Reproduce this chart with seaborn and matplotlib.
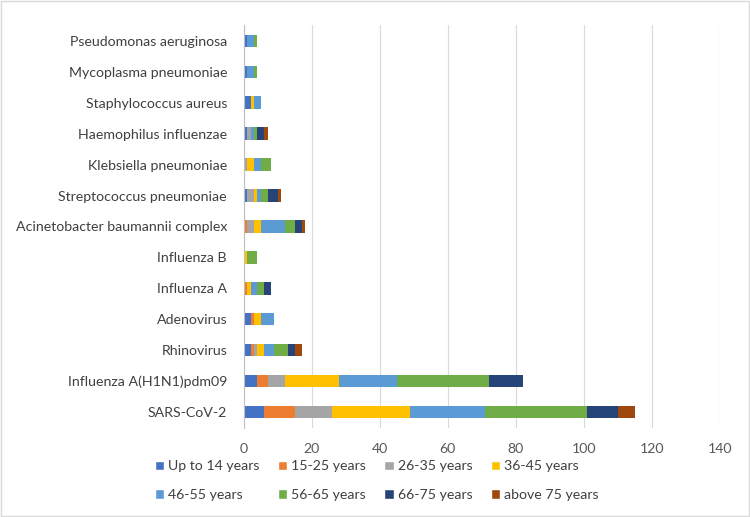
import numpy as np
import pandas as pd
import seaborn as sns
import matplotlib.pyplot as plt
from matplotlib.patches import Patch, Rectangle

# categories, top to bottom as drawn
pathogens = [
    "Pseudomonas aeruginosa", "Mycoplasma pneumoniae", "Staphylococcus aureus",
    "Haemophilus influenzae", "Klebsiella pneumoniae", "Streptococcus pneumoniae",
    "Acinetobacter baumannii complex", "Influenza B", "Influenza A", "Adenovirus",
    "Rhinovirus", "Influenza A(H1N1)pdm09", "SARS-CoV-2",
]
age_groups = ["Up to 14 years", "15-25 years", "26-35 years", "36-45 years",
              "46-55 years", "56-65 years", "66-75 years", "above 75 years"]

# counts per age group, one value per pathogen (same order as pathogens)
up_to_14 = [1, 1, 2, 1, 0, 1, 0, 0, 0, 2, 2, 4, 6]
age_15_25 = [0, 0, 0, 0, 0, 0, 1, 0, 1, 1, 1, 3, 9]
age_26_35 = [0, 0, 0, 1, 1, 2, 2, 0, 0, 0, 1, 5, 11]
age_36_45 = [0, 0, 1, 0, 2, 1, 2, 1, 1, 2, 2, 16, 23]
age_46_55 = [2, 2, 2, 1, 2, 1, 7, 0, 2, 4, 3, 17, 22]
age_56_65 = [1, 1, 0, 1, 3, 2, 3, 3, 2, 0, 4, 27, 30]
age_66_75 = [0, 0, 0, 2, 0, 3, 2, 0, 2, 0, 2, 10, 9]
above_75 = [0, 0, 0, 1, 0, 1, 1, 0, 0, 0, 2, 0, 5]

series = [up_to_14, age_15_25, age_26_35, age_36_45,
          age_46_55, age_56_65, age_66_75, above_75]
colors = ["#4472C4", "#ED7D31", "#A5A5A5", "#FFC000",
          "#5B9BD5", "#70AD47", "#264478", "#9E480E"]

df = pd.DataFrame(dict(zip(age_groups, series)), index=pathogens)
cum = df.cumsum(axis=1)

sns.set_style("white")
plt.rcParams["font.family"] = ["Lato", "DejaVu Sans"]

fig = plt.figure(figsize=(7.5, 5.17), dpi=100)
ax = fig.add_axes([0.325, 0.173, 0.635, 0.778])

# stacked bars: draw running totals from the last group back to the first
for group, color in reversed(list(zip(age_groups, colors))):
    sns.barplot(x=cum[group].values, y=pathogens, orient="h", color=color,
                width=0.4, saturation=1, ax=ax, linewidth=0)

ax.set_xlim(0, 140)
ax.set_xticks(range(0, 141, 20))
ax.grid(axis="x", color="#D9D9D9", linewidth=0.8)
ax.set_axisbelow(True)
for s in ["top", "right", "bottom"]:
    ax.spines[s].set_visible(False)
ax.spines["left"].set_color("#BFBFBF")
ax.tick_params(axis="x", length=0, pad=11, labelsize=10.2, labelcolor="#595959")
ax.tick_params(axis="y", length=0, pad=12, labelsize=10.2, labelcolor="#404040")
ax.set_xlabel("")
ax.set_ylabel("")

handles = [Patch(facecolor=c, label=g) for g, c in zip(age_groups, colors)]
order = [0, 4, 1, 5, 2, 6, 3, 7]
fig.legend([handles[i] for i in order], [age_groups[i] for i in order],
           ncol=4, loc="upper left", bbox_to_anchor=(0.189, 0.134),
           frameon=False, fontsize=10.2, handlelength=0.65, handleheight=0.65,
           handletextpad=0.3, columnspacing=1.3, labelspacing=1.15,
           labelcolor="#404040")

fig.patches.append(Rectangle((0.001, 0.001), 0.998, 0.998, transform=fig.transFigure,
                             fill=False, edgecolor="#D9D9D9", linewidth=1))

fig.savefig("out.png", dpi=100, facecolor="white")
